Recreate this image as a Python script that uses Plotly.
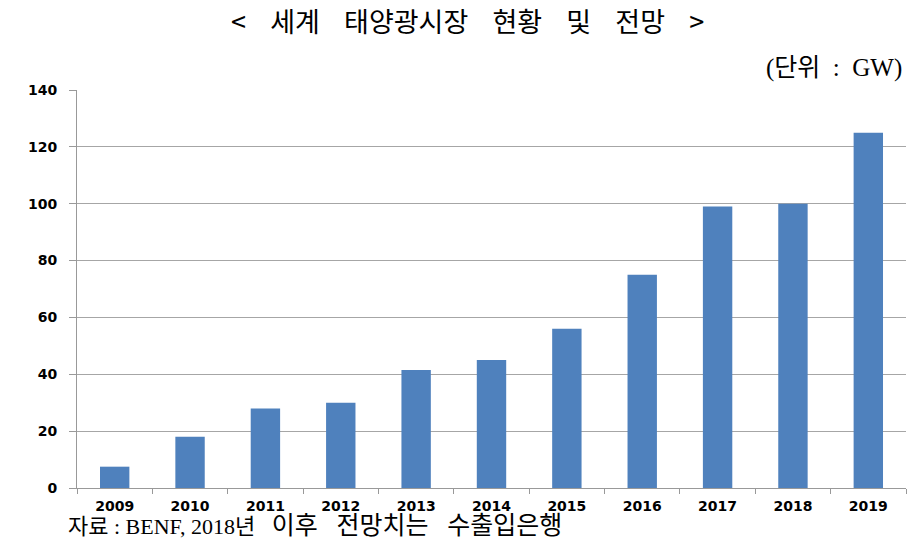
import plotly.graph_objects as go

years = ["2009", "2010", "2011", "2012", "2013", "2014", "2015", "2016", "2017", "2018", "2019"]
capacity_gw = [7.5, 18, 28, 30, 41.5, 45, 56, 75, 99, 100, 125]
y_ticks = [0, 20, 40, 60, 80, 100, 120, 140]

title_text = "&lt;    세계    태양광시장    현황    및    전망    &gt;"
unit_text = "(단위  :  GW)"
source_head = "자료 : BENF, 2018년"
source_tail = "이후   전망치는   수출입은행"

W, H = 913, 548
L, R, T, B = 77, 7, 90, 548 - 488

fig = go.Figure()
fig.add_trace(go.Bar(
    x=years, y=capacity_gw,
    marker=dict(color="#4f81bd", line=dict(width=0)),
    hoverinfo="x+y",
))

pw = W - L - R
ph = H - T - B

def px(x):
    return (x - L) / pw

def py(y):
    return (H - B - y) / ph

fig.update_layout(
    width=W, height=H,
    margin=dict(l=L, r=R, t=T, b=B),
    paper_bgcolor="white", plot_bgcolor="white",
    bargap=0.61,
    showlegend=False,
    font=dict(family="DejaVu Sans", color="black"),
    xaxis=dict(
        type="category",
        showline=True, linecolor="#999999", linewidth=1,
        ticks="outside", tickson="boundaries", ticklen=5, tickcolor="#999999",
        tickfont=dict(family="DejaVu Sans", size=14, color="black", weight="bold"),
        showgrid=False,
        ticklabelstandoff=5,
    ),
    yaxis=dict(
        range=[0, 140], tickvals=y_ticks,
        showline=True, linecolor="#999999", linewidth=1,
        ticks="outside", ticklen=7, tickcolor="#999999",
        showgrid=True, gridcolor="#a6a6a6", gridwidth=1,
        zeroline=False,
        tickfont=dict(family="DejaVu Sans", size=14, color="black", weight="bold"),
        ticklabelstandoff=9,
    ),
    annotations=[
        dict(text=title_text, x=px(467), y=py(21), xref="paper", yref="paper",
             xanchor="center", yanchor="middle", showarrow=False, borderpad=0,
             font=dict(family="Noto Sans CJK KR", size=27, color="black")),
        dict(text=unit_text, x=px(904), y=py(68), xref="paper", yref="paper",
             xanchor="right", yanchor="middle", showarrow=False,
             font=dict(family="Liberation Serif, Noto Sans CJK KR", size=25, color="black")),
        dict(text=source_head + "   <span style='font-size:25px'>" + source_tail + "</span>",
             x=px(66), y=py(525), xref="paper", yref="paper",
             xanchor="left", yanchor="middle", showarrow=False,
             font=dict(family="Liberation Serif, Noto Sans CJK KR", size=22, color="black")),
    ],
)

fig.write_html(
    "out.html",
    config={"displayModeBar": False},
    post_script="document.body.style.margin='0px';document.body.style.overflow='hidden';",
)
